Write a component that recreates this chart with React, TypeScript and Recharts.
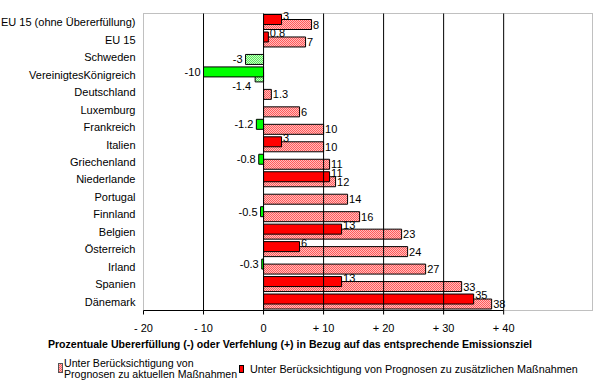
import React from 'react';
import {
  BarChart,
  Bar,
  XAxis,
  YAxis,
  Cell,
  LabelList,
  ReferenceLine,
  ReferenceArea,
  Legend,
} from 'recharts';

const categories = [
  'EU 15 (ohne Übererfüllung)',
  'EU 15',
  'Schweden',
  'VereinigtesKönigreich',
  'Deutschland',
  'Luxemburg',
  'Frankreich',
  'Italien',
  'Griechenland',
  'Niederlande',
  'Portugal',
  'Finnland',
  'Belgien',
  'Österreich',
  'Irland',
  'Spanien',
  'Dänemark',
];

// Unter Berücksichtigung von Prognosen zu aktuellen Maßnahmen
const currentMeasures = [8, 7, -3, -1.4, 1.3, 6, 10, 10, 11, 12, 14, 16, 23, 24, 27, 33, 38];
// Unter Berücksichtigung von Prognosen zu zusätzlichen Maßnahmen
const additionalMeasures = [3, 0.8, null, -10, null, null, -1.2, 3, -0.8, 11, null, -0.5, 13, 6, -0.3, 13, 35];

const seriesNames = [
  'Unter Berücksichtigung von Prognosen zu aktuellen Maßnahmen',
  'Unter Berücksichtigung von Prognosen zu zusätzlichen Maßnahmen',
];
const legendLines = ['Unter Berücksichtigung von', 'Prognosen zu aktuellen Maßnahmen'];

const xTicks = [-20, -10, 0, 10, 20, 30, 40];
const xTickLabels = ['- 20', '- 10', '0', '+ 10', '+ 20', '+ 30', '+ 40'];
const gridValues = [-10, 0, 10, 20, 30, 40];
const xMin = -20;
const xMax = 54.8;
const axisTitle =
  'Prozentuale Ubererfüllung (-) oder Verfehlung (+) in Bezug auf das entsprechende Emissionsziel';

const data = categories.map((name, i) => ({
  name,
  a: currentMeasures[i],
  b: additionalMeasures[i],
}));

const FONT = '"Liberation Sans", Arial, sans-serif';

const makeLabel = (series: 'a' | 'b') => (props: any) => {
  const v = props.value;
  if (v === null || v === undefined) return null;
  const vb = props.viewBox || props;
  const { x, y, width, height } = vb;
  const end = x + width;
  const cy = y + height / 2;
  const idx = props.index;
  let tx: number;
  let ty: number;
  let anchor: 'start' | 'end' = 'start';
  if (v >= 0) {
    tx = end + 1.5;
    ty = cy + 4 + (series === 'b' ? -4 : 0);
  } else {
    const other = series === 'a' ? data[idx]?.b : null;
    anchor = 'end';
    if (other !== null && other !== undefined && other < v) {
      tx = end - 4;
      ty = y + height + 8;
    } else {
      tx = end - 3;
      ty = cy + 4;
    }
  }
  return (
    <text x={tx} y={ty} textAnchor={anchor} fontSize={11} fill="#000" fontFamily={FONT}>
      {String(v)}
    </text>
  );
};

const YTick = (props: any) => (
  <text
    x={props.x}
    y={props.y}
    dy={4}
    textAnchor="end"
    fontSize={11}
    fill="#000"
    fontFamily={FONT}
  >
    {props.payload.value}
  </text>
);

const BottomLine = (p: any) => (
  <line
    x1={p.x}
    x2={p.x + p.width}
    y1={p.y + p.height}
    y2={p.y + p.height}
    stroke="#000"
    strokeWidth={1}
  />
);

const renderLegend = () => (
  <svg width={602} height={52} style={{ display: 'block', fontFamily: FONT }}>
    <text x={290} y={12} textAnchor="middle" fontWeight="bold" fontSize={10.6} fill="#000">
      {axisTitle}
    </text>
    <rect x={58.5} y={27.5} width={4} height={9} fill="url(#hatchRed)" stroke="#555" />
    <text x={64} y={31} fontSize={10.6} fill="#000">
      {legendLines[0]}
    </text>
    <text x={64} y={42} fontSize={10.6} fill="#000">
      {legendLines[1]}
    </text>
    <rect x={239.5} y={29.5} width={4} height={7} fill="#ff0000" stroke="#000" />
    <text x={250} y={37} fontSize={10.8} fill="#000">
      {seriesNames[1]}
    </text>
  </svg>
);

export default function App() {
  return (
    <div style={{ position: 'absolute', left: 0, top: 0, width: 602, height: 388, background: '#fff' }}>
      <BarChart
        width={602}
        height={388}
        data={data}
        layout="vertical"
        margin={{ top: 13.5, right: 9.5, bottom: 0, left: 0 }}
        barSize={10}
        barGap={-15}
        style={{ fontFamily: FONT }}
      >
        <defs>
          <pattern id="hatchRed" width="2" height="2" patternUnits="userSpaceOnUse">
            <rect width="2" height="2" fill="#ffbcbc" />
            <rect x="0" y="0" width="1" height="1" fill="#ff5a5a" />
            <rect x="1" y="1" width="1" height="1" fill="#ff5a5a" />
          </pattern>
          <pattern id="hatchGreen" width="2" height="2" patternUnits="userSpaceOnUse">
            <rect width="2" height="2" fill="#c4ffc4" />
            <rect x="0" y="0" width="1" height="1" fill="#5ae65a" />
            <rect x="1" y="1" width="1" height="1" fill="#5ae65a" />
          </pattern>
        </defs>
        <XAxis
          type="number"
          domain={[xMin, xMax]}
          ticks={xTicks}
          interval={0}
          tickFormatter={(v: number) => xTickLabels[xTicks.indexOf(v)]}
          height={77.5}
          axisLine={false}
          tickLine={{ stroke: '#000' }}
          tickSize={4}
          tickMargin={10}
          tick={{ fill: '#000', fontSize: 11 }}
        />
        <YAxis
          type="category"
          dataKey="name"
          width={143.5}
          axisLine={false}
          tickLine={false}
          tickSize={0}
          tickMargin={8}
          interval={0}
          tick={<YTick />}
        />
        <ReferenceArea
          x1={xMin}
          x2={xMax}
          fill="none"
          fillOpacity={0}
          stroke="#808080"
          strokeDasharray="1 1"
          ifOverflow="visible"
        />
        {gridValues.map((v) => (
          <ReferenceLine key={v} x={v} stroke="#000" strokeWidth={1} ifOverflow="visible" />
        ))}
        <ReferenceArea
          x1={xMin}
          x2={40}
          y1={categories[categories.length - 1]}
          y2={categories[categories.length - 1]}
          ifOverflow="visible"
          shape={BottomLine}
        />
        <Bar dataKey="a" name={seriesNames[0]} isAnimationActive={false} stroke="#000" strokeWidth={1}>
          {data.map((d, i) => (
            <Cell key={i} fill={d.a < 0 ? 'url(#hatchGreen)' : 'url(#hatchRed)'} />
          ))}
          <LabelList dataKey="a" content={makeLabel('a')} />
        </Bar>
        <Bar dataKey="b" name={seriesNames[1]} isAnimationActive={false} stroke="#000" strokeWidth={1}>
          {data.map((d, i) => (
            <Cell key={i} fill={d.b !== null && d.b < 0 ? '#00ff00' : '#ff0000'} />
          ))}
          <LabelList dataKey="b" content={makeLabel('b')} />
        </Bar>
        <Legend
          layout="horizontal"
          verticalAlign="middle"
          align="center"
          content={renderLegend}
          wrapperStyle={{ left: 0, top: 336, width: 602, height: 52 }}
        />
      </BarChart>
    </div>
  );
}
